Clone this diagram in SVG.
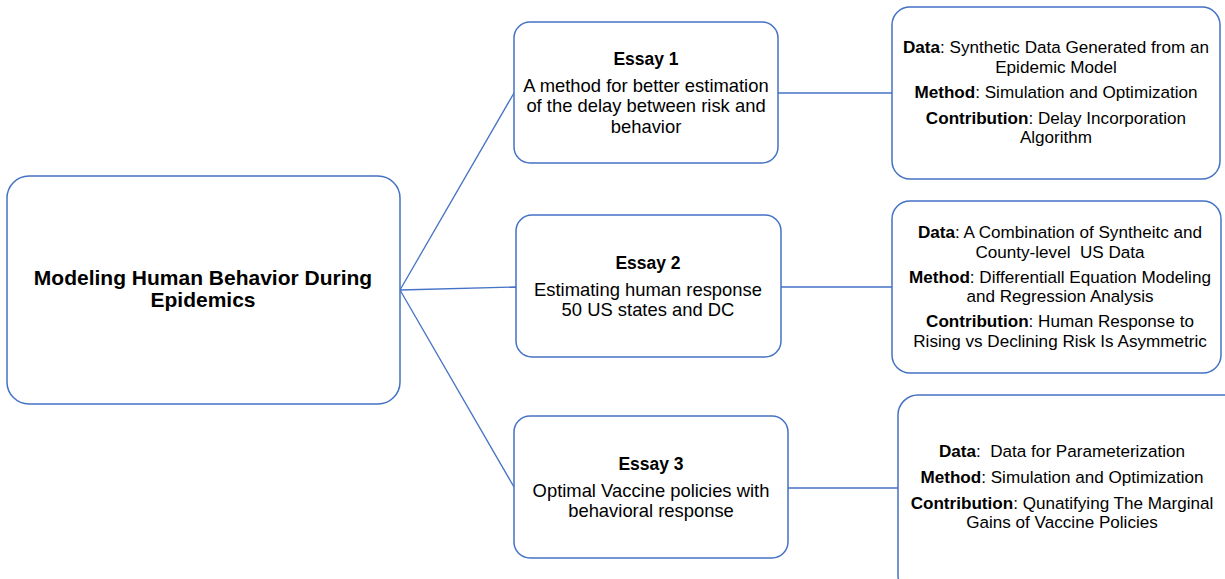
<svg xmlns="http://www.w3.org/2000/svg" width="1225" height="579" viewBox="0 0 1225 579">
<style>
.box{fill:#fff;stroke:#4472C4;stroke-width:1.5}
.con{fill:none;stroke:#4472C4;stroke-width:1.3}
text{font-family:"Liberation Sans",Arial,sans-serif;fill:#000;text-anchor:middle;white-space:pre}
.t{font-size:21px;font-weight:bold}
.h{font-size:17.5px;font-weight:bold}
.b{font-size:18.4px}
.s{font-size:17.1px}
.s tspan.k{font-weight:bold}
</style>
<rect width="1225" height="579" fill="#fff"/>
<g id="connectors">
<path class="con" d="M400,290 L514,93"/>
<path class="con" d="M400,290 L516,287"/>
<path class="con" d="M400,290 L514,487"/>
<path class="con" d="M778,93 L892,93"/>
<path class="con" d="M781,287 L892,287"/>
<path class="con" d="M788,488 L898,488"/>
</g>
<g id="main">
<rect class="box" x="7" y="176" width="393" height="228" rx="22"/>
<text class="t" x="203" y="285">Modeling Human Behavior During</text>
<text class="t" x="203" y="307">Epidemics</text>
</g>
<g id="essay1">
<rect class="box" x="514" y="22" width="264" height="141" rx="16"/>
<text class="h" x="646" y="65">Essay 1</text>
<text class="b" x="646" y="92">A method for better estimation</text>
<text class="b" x="646" y="112">of the delay between risk and</text>
<text class="b" x="646" y="133">behavior</text>
</g>
<g id="essay2">
<rect class="box" x="516" y="215" width="265" height="142" rx="16"/>
<text class="h" x="648" y="269">Essay 2</text>
<text class="b" x="648" y="296">Estimating human response</text>
<text class="b" x="648" y="316">50 US states and DC</text>
</g>
<g id="essay3">
<rect class="box" x="514" y="416" width="274" height="142" rx="16"/>
<text class="h" x="651" y="470">Essay 3</text>
<text class="b" x="651" y="497">Optimal Vaccine policies with</text>
<text class="b" x="651" y="517">behavioral response</text>
</g>
<g id="detail1">
<rect class="box" x="892" y="7" width="328" height="172" rx="18"/>
<text class="s" x="1056" y="53"><tspan class="k">Data</tspan>: Synthetic Data Generated from an</text>
<text class="s" x="1056" y="73">Epidemic Model</text>
<text class="s" x="1056" y="98"><tspan class="k">Method</tspan>: Simulation and Optimization</text>
<text class="s" x="1056" y="124"><tspan class="k">Contribution</tspan>: Delay Incorporation</text>
<text class="s" x="1056" y="143">Algorithm</text>
</g>
<g id="detail2">
<rect class="box" x="892" y="201" width="329" height="172" rx="18"/>
<text class="s" x="1060" y="238"><tspan class="k">Data</tspan>: A Combination of Syntheitc and</text>
<text class="s" x="1060" y="258" xml:space="preserve">County-level  US Data</text>
<text class="s" x="1060" y="283"><tspan class="k">Method</tspan>: Differentiall Equation Modeling</text>
<text class="s" x="1060" y="302">and Regression Analysis</text>
<text class="s" x="1060" y="327"><tspan class="k">Contribution</tspan>: Human Response to</text>
<text class="s" x="1060" y="347">Rising vs Declining Risk Is Asymmetric</text>
</g>
<g id="detail3">
<rect class="box" x="898" y="395" width="345" height="200" rx="20"/>
<text class="s" x="1062" y="457" xml:space="preserve"><tspan class="k">Data</tspan>:  Data for Parameterization</text>
<text class="s" x="1062" y="483"><tspan class="k">Method</tspan>: Simulation and Optimization</text>
<text class="s" x="1062" y="509"><tspan class="k">Contribution</tspan>: Qunatifying The Marginal</text>
<text class="s" x="1062" y="528">Gains of Vaccine Policies</text>
</g>
</svg>
